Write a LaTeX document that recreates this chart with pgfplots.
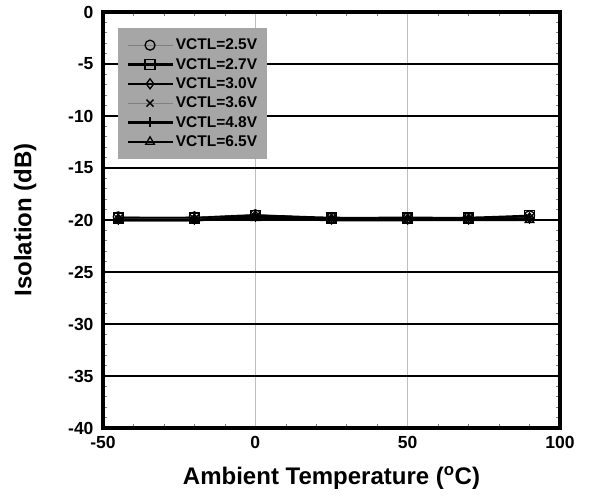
\documentclass[border=0pt]{standalone}
\usepackage{pgfplots}
\pgfplotsset{compat=1.18}
\usepackage{fontspec}
\setmainfont{Liberation Sans}
\definecolor{legbg}{RGB}{166,166,166}
\definecolor{vgrid}{RGB}{190,190,190}
\begin{document}
\begin{tikzpicture}
\path (0pt,0pt) rectangle (607pt,500pt);
\begin{axis}[
  at={(103pt,72pt)}, anchor=south west,
  scale only axis, width=457pt, height=416pt,
  xmin=-50, xmax=100, ymin=-40, ymax=0,
  xtick={-50,0,50,100}, ytick={-40,-35,...,0},
  minor x tick num=4, minor y tick num=4,
  tick align=inside,
  major tick length=0pt, minor tick length=4pt,
  minor tick style={gray, line width=0.6pt},
  axis line style={line width=3.5pt},
  xmajorgrids, ymajorgrids,
  x grid style={vgrid, line width=0.8pt},
  y grid style={black, line width=2.5pt},
  tick label style={font=\fontsize{17.5}{20}\selectfont\bfseries},
  /pgf/number format/assume math mode=true,
  xticklabel style={yshift=-5pt},
  yticklabel style={xshift=-6pt},
  xlabel={Ambient Temperature (\textsuperscript{o}C)},
  ylabel={Isolation (dB)},
  label style={font=\fontsize{24}{28}\selectfont\bfseries},
  xlabel style={yshift=-11pt},
  ylabel style={yshift=25pt},
  legend style={at={(0.033,0.962)}, anchor=north west, fill=legbg, draw=none,
    font=\fontsize{15.5}{18}\selectfont\bfseries, row sep=3pt, inner xsep=8pt, inner ysep=9pt,
    cells={anchor=west}},
  legend image code/.code={\draw[#1,mark=none] (0pt,0pt) -- (45pt,0pt);
     \draw[#1,only marks] plot coordinates {(22.5pt,0pt)};},
  every axis plot/.append style={mark size=5pt, mark options={solid, black, line width=1.3pt, fill=none}},
]
\addplot[gray, line width=0.8pt, smooth, mark=o] coordinates {(-45,-19.7) (-20,-19.7) (0,-19.5) (25,-19.8) (50,-19.8) (70,-19.8) (90,-19.6)};
\addlegendentry{VCTL=2.5V}
\addplot[black, line width=2.5pt, smooth, mark=square] coordinates {(-45,-19.8) (-20,-19.8) (0,-19.6) (25,-19.8) (50,-19.8) (70,-19.8) (90,-19.6)};
\addlegendentry{VCTL=2.7V}
\addplot[black, line width=2.5pt, smooth, mark=diamond] coordinates {(-45,-19.9) (-20,-19.9) (0,-19.6) (25,-19.9) (50,-19.9) (70,-19.9) (90,-19.8)};
\addlegendentry{VCTL=3.0V}
\addplot[gray, line width=0.8pt, smooth, mark=x] coordinates {(-45,-19.9) (-20,-19.9) (0,-19.7) (25,-19.9) (50,-19.9) (70,-19.9) (90,-19.8)};
\addlegendentry{VCTL=3.6V}
\addplot[black, line width=2.5pt, smooth, mark=+] coordinates {(-45,-20.0) (-20,-20.0) (0,-19.7) (25,-19.9) (50,-19.9) (70,-19.9) (90,-19.9)};
\addlegendentry{VCTL=4.8V}
\addplot[black, line width=2.5pt, smooth, mark=triangle] coordinates {(-45,-20.0) (-20,-20.0) (0,-19.8) (25,-20.0) (50,-20.0) (70,-20.0) (90,-20.0)};
\addlegendentry{VCTL=6.5V}
\end{axis}
\end{tikzpicture}
\end{document}
